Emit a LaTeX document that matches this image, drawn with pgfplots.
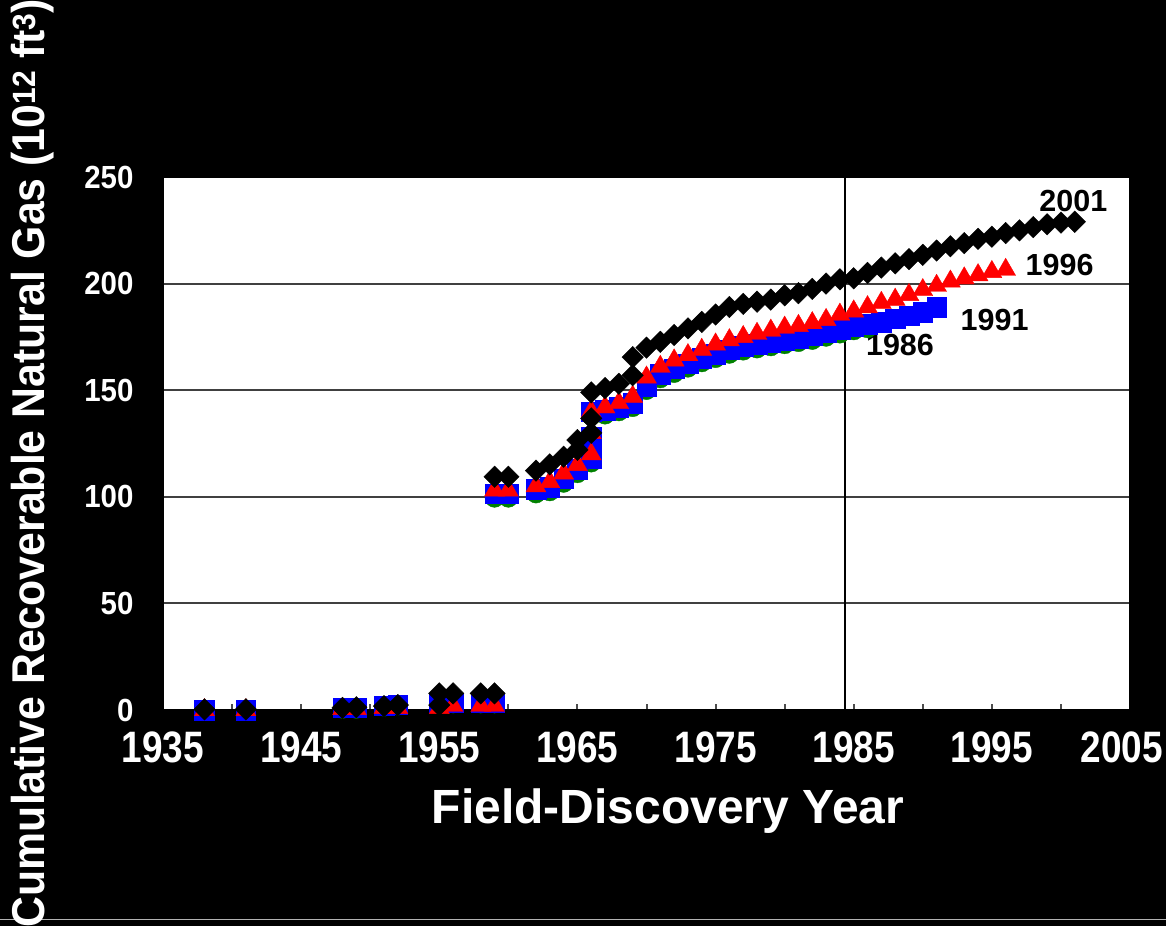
\documentclass[border=0pt]{standalone}
\usepackage{fontspec}
\setmainfont{Liberation Sans}
\newfontfamily\condfont[FakeStretch=0.84]{Liberation Sans}
\newfontfamily\ytfont[FakeStretch=0.92]{Liberation Sans}
\newfontfamily\labfont[FakeStretch=0.93]{Liberation Sans}
\usepackage{pgfplots}
\pgfplotsset{compat=1.18}
\definecolor{grn}{RGB}{0,128,0}
\begin{document}
\begin{tikzpicture}
\useasboundingbox (-163pt,-216pt) rectangle (1003pt,710pt);
\fill[black] (-163pt,-216pt) rectangle (1003pt,710pt);
\draw[gray!60, line width=1pt] (-163pt,-209pt) -- (1003pt,-209pt);
\begin{axis}[at={(0pt,0pt)}, anchor=south west, scale only axis,
  width=967pt, height=533pt,
  xmin=1935, xmax=2005, ymin=0, ymax=250,
  axis background/.style={fill=white},
  axis line style={black, line width=2pt},
  xtick={1935,1945,...,2005},
  xticklabels={1935,1945,1955,1965,1975,1985,1995,},
  minor xtick={1940,1950,...,2000},
  ytick={0,50,...,250},
  yticklabels={0,50,100,150,200,250},
  ymajorgrids, grid style={black!75, line width=2pt},
  tick align=inside, xtick pos=bottom, ytick pos=left,
  major tick length=6pt, minor tick length=6pt,
  ytick style={draw=none},
  xtick style={black!70, line width=2pt},
  xticklabel style={font=\condfont\bfseries\fontsize{44}{48}\selectfont, text=white, anchor=base, yshift=-52pt},
  yticklabel style={font=\ytfont\bfseries\fontsize{32}{36}\selectfont, text=white, anchor=east, xshift=-26pt},
]
% 1986
\addplot[only marks, mark=*, mark size=9.5pt, color=grn] coordinates {
(1938,0) (1941,0) (1948,0.5) (1949,0.5) (1951,1.5) (1952,2) (1955,3) (1956,3) (1958,3) (1959,3)
(1959,99.5) (1960,99.5) (1962,101.5) (1963,102.5) (1964,106.5) (1965,111) (1966,116) (1966,126) (1966,138)
(1967,138.5) (1968,140) (1969,142) (1970,150) (1971,155.5) (1972,158) (1973,160.5) (1974,163) (1975,165)
(1976,167) (1977,168.5) (1978,169.5) (1979,170.5) (1980,171.5) (1981,172.5) (1982,173.5) (1983,175)
(1984,176.5) (1985,178) (1986,179)
};
% 1991
\addplot[only marks, mark=square*, mark size=9.8pt, color=blue] coordinates {
(1938,0) (1941,0) (1948,1) (1949,1) (1951,2) (1952,2.5) (1955,3.5) (1956,3.5) (1958,3.5) (1959,3.5)
(1959,101.5) (1960,101.5) (1962,103.5) (1963,104.5) (1964,108.5) (1965,113) (1966,118) (1966,128) (1966,140)
(1967,140.5) (1968,142) (1969,144) (1970,152) (1971,157.5) (1972,160) (1973,162.5) (1974,165) (1975,167)
(1976,169) (1977,170.5) (1978,171.5) (1979,172.5) (1980,173.5) (1981,174.5) (1982,175.5) (1983,177)
(1984,178.5) (1985,180) (1986,181) (1987,182) (1988,183.5) (1989,185) (1990,186.5) (1991,189)
};
% 1996
\addplot[only marks, mark=triangle*, mark size=11.5pt, color=red] coordinates {
(1938,0) (1941,0) (1948,0.5) (1949,0.5) (1951,1) (1952,1) (1955,1) (1956,2) (1958,2) (1959,2)
(1959,103) (1960,103) (1962,105) (1963,107) (1964,111) (1965,115) (1966,120) (1966,130) (1966,140)
(1967,142) (1968,144) (1969,147) (1970,156) (1971,161) (1972,164) (1973,166.5) (1974,169) (1975,171.5)
(1976,173.5) (1977,175) (1978,176.5) (1979,178) (1980,179.4) (1981,180.2) (1982,181.5) (1983,183)
(1984,185.5) (1985,187) (1986,189) (1987,191) (1988,192.5) (1989,194.7) (1990,197) (1991,199)
(1992,201) (1993,202.5) (1994,204) (1995,205.5) (1996,206.5)
};
% 2001
\addplot[only marks, mark=square*, mark size=7.6pt, mark options={rotate=45}, color=black] coordinates {
(1938,0.3) (1941,0.3) (1948,1) (1949,1.3) (1951,1.8) (1952,2.3) (1955,2.3) (1955,7.8) (1956,7.8) (1958,7.8) (1959,7.8)
(1959,109.4) (1960,109.4) (1962,112.3) (1963,115.2) (1964,118.8) (1965,122) (1965,126.6) (1966,130) (1966,136.8) (1966,149)
(1967,151) (1968,153) (1969,157) (1969,165.5) (1970,170) (1971,172.7) (1972,175.9) (1973,179) (1974,182)
(1975,185.5) (1976,189) (1977,190.5) (1978,191.5) (1979,192.5) (1980,194.5) (1981,195.5) (1982,197.5)
(1983,200) (1984,202) (1985,202.5) (1986,205) (1987,207.5) (1988,209.5) (1989,211.5) (1990,213.5)
(1991,215.5) (1992,217.5) (1993,219) (1994,221) (1995,222) (1996,223.7) (1997,225) (1998,226.5)
(1999,227.8) (2000,228.6) (2001,229)
};
\draw[black, line width=2pt] (axis cs:1984.4,0) -- (axis cs:1984.4,250);
\node[font=\bfseries\fontsize{30.5}{34}\selectfont] at (axis cs:2000.9,238.7) {2001};
\node[font=\bfseries\fontsize{30.5}{34}\selectfont] at (axis cs:1999.9,208.8) {1996};
\node[font=\bfseries\fontsize{30.5}{34}\selectfont] at (axis cs:1995.2,183.0) {1991};
\node[font=\bfseries\fontsize{30.5}{34}\selectfont] at (axis cs:1988.35,171.2) {1986};
\end{axis}
\node[anchor=base east, inner sep=0pt, text=white, font=\condfont\bfseries\fontsize{44}{48}\selectfont] at (1000pt,-52pt) {2005};
\node[rotate=90, anchor=base, text=white, font=\labfont\bfseries\fontsize{46}{50}\selectfont] at (-118pt,247pt)
  {Cumulative Recoverable Natural Gas (10\textsuperscript{12} ft\textsuperscript{3})};
\node[anchor=base, text=white, font=\bfseries\fontsize{48}{52}\selectfont] at (505pt,-113pt) {Field-Discovery Year};
\end{tikzpicture}
\end{document}
